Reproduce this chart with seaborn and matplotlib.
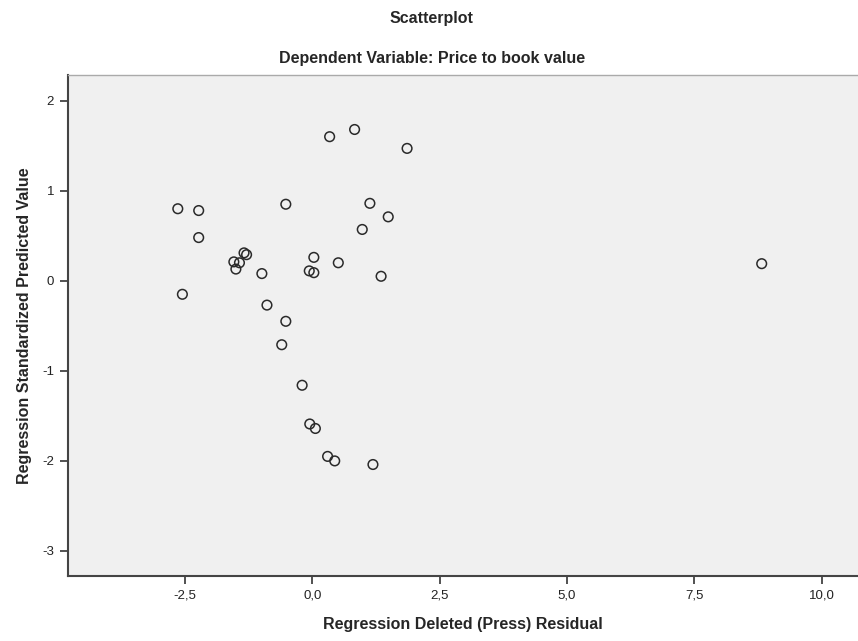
import matplotlib
matplotlib.use('Agg')
import matplotlib.pyplot as plt
from matplotlib.ticker import FuncFormatter
import seaborn as sns
import pandas as pd

residuo_press = [0.34, 0.83, 1.86, -2.64, -2.23, -0.52, 1.13, 1.49, 0.98, -2.23,
                 -1.34, -1.29, -1.54, -1.43, -1.50, -0.99, 0.03, 0.51, -0.06, 0.03,
                 1.35, -2.55, -0.89, -0.52, -0.60, -0.20, -0.05, 0.06, 0.30, 0.44,
                 1.19, 8.82]
pred_std = [1.60, 1.68, 1.47, 0.80, 0.78, 0.85, 0.86, 0.71, 0.57, 0.48,
            0.31, 0.29, 0.21, 0.20, 0.13, 0.08, 0.26, 0.20, 0.11, 0.09,
            0.05, -0.15, -0.27, -0.45, -0.71, -1.16, -1.59, -1.64, -1.95, -2.00,
            -2.04, 0.19]
ticks_x = [-2.5, 0.0, 2.5, 5.0, 7.5, 10.0]
ticks_y = [-3, -2, -1, 0, 1, 2]

df = pd.DataFrame({'residuo': residuo_press, 'pred': pred_std})

sns.set_theme(style="white")
plt.rcParams['font.family'] = ['Liberation Sans', 'DejaVu Sans']

fig = plt.figure(figsize=(8.58, 6.41), dpi=100)
ax = fig.add_axes([68 / 858, 1 - 576 / 641, 1 - 68 / 858, (576 - 75) / 641])
ax.set_facecolor('#f0f0f0')

sns.scatterplot(data=df, x='residuo', y='pred', ax=ax, marker='o', s=48,
                facecolor='none', edgecolor='#2a2a2a', linewidth=1.1)

ax.set_xlim(-4.795, 10.71)
ax.set_ylim(-3.278, 2.285)
ax.set_xticks(ticks_x)
ax.set_yticks(ticks_y)
ax.xaxis.set_major_formatter(FuncFormatter(lambda v, p: f"{v:.1f}".replace('.', ',')))
ax.yaxis.set_major_formatter(FuncFormatter(lambda v, p: f"{v:.0f}"))
ax.tick_params(axis='both', which='major', direction='out', length=6, width=1.2,
               color='#333333', labelsize=9.5, labelcolor='#222222', pad=4,
               bottom=True, left=True)

for lado in ['left', 'bottom']:
    ax.spines[lado].set_color('#444444')
    ax.spines[lado].set_linewidth(1.5)
ax.spines['top'].set_color('#aaaaaa')
ax.spines['top'].set_linewidth(1.0)
ax.spines['right'].set_visible(False)

ax.set_xlabel('Regression Deleted (Press) Residual', fontsize=11.5, fontweight='bold', labelpad=11)
ax.set_ylabel('Regression Standardized Predicted Value', fontsize=11.5, fontweight='bold', labelpad=7)

fig.text(0.503, 1 - 19 / 641, 'Scatterplot', ha='center', va='center', fontsize=11.5, fontweight='bold')
fig.text(0.503, 1 - 58 / 641, 'Dependent Variable: Price to book value', ha='center', va='center',
         fontsize=11.5, fontweight='bold')

fig.savefig('out.png', dpi=100)
plt.close(fig)
